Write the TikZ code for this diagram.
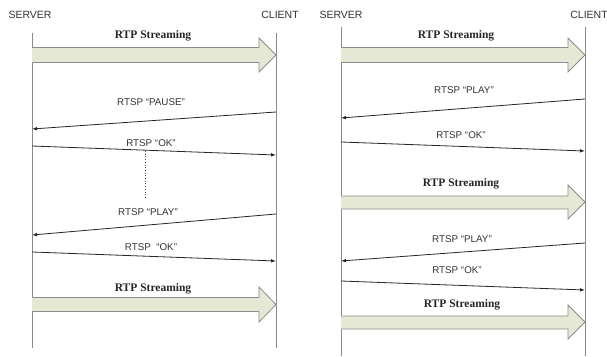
\documentclass[tikz,border=0pt]{standalone}
\usepackage{fontspec}
\setmainfont{Liberation Serif}
\newfontfamily\arialf{Liberation Sans}
\usetikzlibrary{arrows.meta}
\definecolor{blockfill}{HTML}{E6E8D6}
\definecolor{blockline}{HTML}{8C8C8C}
\definecolor{lifeline}{HTML}{8A8A8A}
\tikzset{
  life/.style={draw=lifeline, line width=0.9pt},
  msg/.style={draw=black!85, line width=0.8pt, -{Latex[length=5pt,width=3.6pt]}},
  actor/.style={font=\arialf\fontsize{10.5}{12}\selectfont, text=black!80, inner sep=0pt},
  rtsp/.style={font=\arialf\fontsize{9.8}{12}\selectfont, text=black!80, inner sep=0pt},
  rtp/.style={font=\bfseries\fontsize{11.5}{13}\selectfont, text=black!85, inner sep=0pt},
  blockarrow/.style={fill=blockfill, draw=blockline, line width=0.8pt, line join=miter},
}
\begin{document}
\begin{tikzpicture}[x=1pt,y=-1pt]
\useasboundingbox (0,0) rectangle (607,356);
\fill[white] (0,0) rectangle (607,356);

% ---------- left panel ----------
\coordinate (LSt) at (32,33);  \coordinate (LSb) at (32,348);
\coordinate (LCt) at (276,33); \coordinate (LCb) at (276,348);
\draw[life] (LSt) -- (LSb);
\draw[life] (LCt) -- (LCb);
\node[actor] (LS) at (30,15) {SERVER};
\node[actor] (LC) at (280,15) {CLIENT};

% block arrow 1
\draw[blockarrow] (32,47.5) -- (259,47.5) -- (259,38) -- (276,55) -- (259,72) -- (259,62.5) -- (32,62.5);
\node[rtp] (Lrtp1) at (153,36) {RTP Streaming};

\coordinate (Lm1a) at (276,112); \coordinate (Lm1b) at (32,129);
\draw[msg] (Lm1a) -- (Lm1b);
\node[rtsp] (Lpause) at (151,102) {RTSP “PAUSE”};

\coordinate (Lm2a) at (32,146); \coordinate (Lm2b) at (276,155);
\draw[msg] (Lm2a) -- (Lm2b);
\node[rtsp] (Lok1) at (151,143) {RTSP “OK”};

\coordinate (Ldt) at (145,151); \coordinate (Ldb) at (145,197);
\draw[black!70, line width=0.7pt, dotted] (Ldt) -- (Ldb);

\coordinate (Lm3a) at (276,214); \coordinate (Lm3b) at (32,235);
\draw[msg] (Lm3a) -- (Lm3b);
\node[rtsp] (Lplay) at (148,212) {RTSP “PLAY”};

\coordinate (Lm4a) at (32,252); \coordinate (Lm4b) at (276,261);
\draw[msg] (Lm4a) -- (Lm4b);
\node[rtsp] (Lok2) at (151,247) {RTSP\ \ “OK”};

\draw[blockarrow] (32,297.5) -- (259,297.5) -- (259,287) -- (276,304.5) -- (259,322) -- (259,311.5) -- (32,311.5);
\node[rtp] (Lrtp2) at (153,289) {RTP Streaming};

% ---------- right panel ----------
\coordinate (RSt) at (341,27);  \coordinate (RSb) at (341,356);
\coordinate (RCt) at (585,27); \coordinate (RCb) at (585,356);
\draw[life] (RSt) -- (RSb);
\draw[life] (RCt) -- (RCb);
\node[actor] (RS) at (341,15) {SERVER};
\node[actor] (RC) at (589,15) {CLIENT};

\draw[blockarrow] (341,47.5) -- (568,47.5) -- (568,38) -- (585,55) -- (568,72) -- (568,62.5) -- (341,62.5);
\node[rtp] (Rrtp1) at (456,36) {RTP Streaming};

\coordinate (Rm1a) at (585,99); \coordinate (Rm1b) at (341,118);
\draw[msg] (Rm1a) -- (Rm1b);
\node[rtsp] (Rplay1) at (464,90) {RTSP “PLAY”};

\coordinate (Rm2a) at (341,142); \coordinate (Rm2b) at (585,151);
\draw[msg] (Rm2a) -- (Rm2b);
\node[rtsp] (Rok1) at (461,135) {RTSP “OK”};

\draw[blockarrow] (341,196) -- (568,196) -- (568,185) -- (585,202) -- (568,219) -- (568,209) -- (341,209);
\node[rtp] (Rrtp2) at (461,184) {RTP Streaming};

\coordinate (Rm3a) at (585,243); \coordinate (Rm3b) at (341,261);
\draw[msg] (Rm3a) -- (Rm3b);
\node[rtsp] (Rplay2) at (462,239) {RTSP “PLAY”};

\coordinate (Rm4a) at (341,281); \coordinate (Rm4b) at (585,290);
\draw[msg] (Rm4a) -- (Rm4b);
\node[rtsp] (Rok2) at (457,270) {RTSP “OK”};

\draw[blockarrow] (341,316) -- (568,316) -- (568,305) -- (585,322) -- (568,339) -- (568,329) -- (341,329);
\node[rtp] (Rrtp3) at (462,305) {RTP Streaming};
\end{tikzpicture}
\end{document}
